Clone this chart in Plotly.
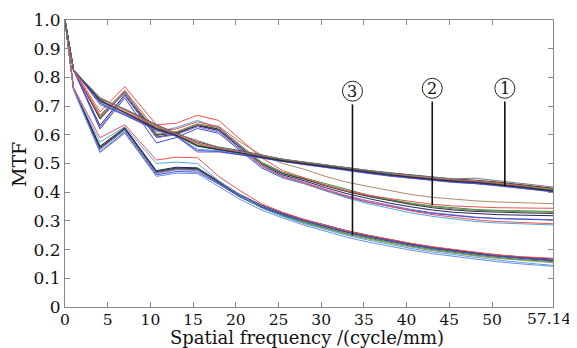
import plotly.graph_objects as go

# Spatial frequency sample points (cycle/mm)
freq = [0, 1, 4.1, 7, 10.7, 13, 15.5, 18, 20.5, 23, 25.5, 28, 30.5, 33, 35.5,
        38, 40.5, 43, 45.5, 48, 50.5, 53.5, 57.14]

# Group 1 (highest MTF at high frequency)
g1_grey = [1, 0.826, 0.728, 0.688, 0.632, 0.604, 0.58, 0.556, 0.542, 0.528, 0.515, 0.505, 0.495, 0.485, 0.475, 0.466, 0.459, 0.452, 0.446, 0.449, 0.44, 0.43, 0.418]
g1_dark = [1, 0.826, 0.725, 0.69, 0.635, 0.605, 0.575, 0.557, 0.545, 0.53, 0.515, 0.505, 0.495, 0.485, 0.476, 0.468, 0.46, 0.452, 0.446, 0.442, 0.436, 0.426, 0.414]
g1_brown = [1, 0.826, 0.73, 0.685, 0.63, 0.6, 0.57, 0.552, 0.54, 0.525, 0.512, 0.502, 0.492, 0.482, 0.472, 0.463, 0.455, 0.447, 0.441, 0.437, 0.432, 0.422, 0.41]
g1_green = [1, 0.826, 0.715, 0.68, 0.625, 0.6, 0.565, 0.55, 0.538, 0.524, 0.511, 0.501, 0.491, 0.481, 0.471, 0.462, 0.454, 0.446, 0.44, 0.436, 0.43, 0.42, 0.408]
g1_black = [1, 0.826, 0.72, 0.675, 0.62, 0.598, 0.56, 0.548, 0.537, 0.523, 0.51, 0.5, 0.49, 0.48, 0.47, 0.461, 0.453, 0.445, 0.439, 0.435, 0.428, 0.418, 0.405]
g1_blue = [1, 0.826, 0.71, 0.67, 0.618, 0.596, 0.545, 0.542, 0.532, 0.52, 0.507, 0.497, 0.487, 0.476, 0.466, 0.457, 0.449, 0.441, 0.435, 0.43, 0.424, 0.414, 0.402]
g1_red = [1, 0.826, 0.722, 0.68, 0.628, 0.602, 0.57, 0.553, 0.54, 0.526, 0.514, 0.504, 0.494, 0.484, 0.474, 0.464, 0.456, 0.448, 0.443, 0.439, 0.433, 0.423, 0.412]
g1_purple = [1, 0.826, 0.705, 0.668, 0.615, 0.595, 0.54, 0.54, 0.53, 0.518, 0.506, 0.496, 0.486, 0.475, 0.465, 0.456, 0.448, 0.44, 0.434, 0.43, 0.423, 0.413, 0.401]
g1_navy = [1, 0.826, 0.718, 0.678, 0.622, 0.6, 0.562, 0.55, 0.536, 0.522, 0.509, 0.499, 0.489, 0.479, 0.469, 0.46, 0.452, 0.444, 0.438, 0.434, 0.427, 0.417, 0.404]
g1_lblue = [1, 0.826, 0.712, 0.672, 0.62, 0.597, 0.55, 0.545, 0.534, 0.52, 0.508, 0.498, 0.488, 0.478, 0.468, 0.459, 0.451, 0.443, 0.437, 0.432, 0.426, 0.416, 0.403]

# Group 2 (middle)
g2_red = [1, 0.828, 0.68, 0.768, 0.635, 0.64, 0.668, 0.65, 0.585, 0.52, 0.475, 0.45, 0.425, 0.405, 0.39, 0.378, 0.367, 0.358, 0.352, 0.348, 0.346, 0.345, 0.344]
g2_brown = [1, 0.826, 0.67, 0.75, 0.605, 0.61, 0.635, 0.63, 0.575, 0.53, 0.5, 0.48, 0.455, 0.435, 0.42, 0.405, 0.392, 0.382, 0.375, 0.37, 0.366, 0.363, 0.36]
g2_lblue = [1, 0.826, 0.665, 0.745, 0.61, 0.625, 0.65, 0.625, 0.56, 0.495, 0.45, 0.43, 0.405, 0.38, 0.36, 0.343, 0.328, 0.316, 0.306, 0.298, 0.293, 0.289, 0.286]
g2_green = [1, 0.826, 0.66, 0.752, 0.6, 0.61, 0.638, 0.625, 0.565, 0.505, 0.47, 0.45, 0.428, 0.408, 0.39, 0.375, 0.362, 0.352, 0.345, 0.34, 0.337, 0.335, 0.333]
g2_black = [1, 0.826, 0.655, 0.748, 0.598, 0.607, 0.635, 0.62, 0.56, 0.5, 0.465, 0.445, 0.422, 0.402, 0.385, 0.37, 0.357, 0.346, 0.338, 0.333, 0.33, 0.328, 0.326]
g2_navy = [1, 0.826, 0.632, 0.74, 0.592, 0.603, 0.632, 0.615, 0.555, 0.495, 0.46, 0.44, 0.416, 0.395, 0.378, 0.362, 0.349, 0.338, 0.33, 0.325, 0.322, 0.32, 0.318]
g2_purple = [1, 0.826, 0.625, 0.735, 0.59, 0.6, 0.628, 0.61, 0.55, 0.49, 0.455, 0.435, 0.41, 0.388, 0.37, 0.354, 0.34, 0.329, 0.32, 0.313, 0.309, 0.306, 0.304]
g2_blue = [1, 0.826, 0.62, 0.728, 0.572, 0.59, 0.622, 0.605, 0.545, 0.485, 0.45, 0.43, 0.405, 0.383, 0.365, 0.35, 0.337, 0.326, 0.318, 0.312, 0.308, 0.305, 0.303]
g2_grey = [1, 0.826, 0.66, 0.745, 0.6, 0.608, 0.632, 0.618, 0.557, 0.5, 0.465, 0.447, 0.425, 0.405, 0.388, 0.373, 0.36, 0.35, 0.342, 0.337, 0.334, 0.332, 0.33]
g2_red2 = [1, 0.826, 0.665, 0.755, 0.615, 0.62, 0.645, 0.628, 0.563, 0.495, 0.455, 0.432, 0.407, 0.385, 0.366, 0.35, 0.335, 0.322, 0.312, 0.304, 0.298, 0.294, 0.29]

# Group 3 (lowest)
g3_red = [1, 0.765, 0.59, 0.635, 0.512, 0.522, 0.52, 0.455, 0.405, 0.36, 0.33, 0.305, 0.285, 0.265, 0.25, 0.235, 0.222, 0.21, 0.2, 0.19, 0.182, 0.175, 0.17]
g3_lblue = [1, 0.762, 0.575, 0.628, 0.5, 0.505, 0.5, 0.44, 0.39, 0.345, 0.315, 0.29, 0.27, 0.25, 0.233, 0.218, 0.204, 0.192, 0.182, 0.172, 0.164, 0.155, 0.145]
g3_navy = [1, 0.762, 0.56, 0.625, 0.475, 0.487, 0.485, 0.438, 0.392, 0.355, 0.327, 0.305, 0.285, 0.266, 0.25, 0.235, 0.221, 0.209, 0.199, 0.19, 0.182, 0.174, 0.167]
g3_black = [1, 0.76, 0.555, 0.622, 0.472, 0.484, 0.482, 0.434, 0.388, 0.35, 0.322, 0.3, 0.28, 0.261, 0.245, 0.23, 0.217, 0.205, 0.195, 0.186, 0.178, 0.17, 0.162]
g3_green = [1, 0.76, 0.552, 0.62, 0.468, 0.48, 0.478, 0.43, 0.385, 0.347, 0.318, 0.295, 0.275, 0.256, 0.24, 0.225, 0.212, 0.2, 0.19, 0.181, 0.173, 0.165, 0.158]
g3_purple = [1, 0.758, 0.548, 0.616, 0.465, 0.478, 0.476, 0.432, 0.386, 0.35, 0.323, 0.301, 0.282, 0.264, 0.248, 0.233, 0.22, 0.208, 0.198, 0.188, 0.179, 0.171, 0.163]
g3_blue = [1, 0.758, 0.54, 0.61, 0.46, 0.472, 0.47, 0.428, 0.383, 0.348, 0.322, 0.3, 0.281, 0.262, 0.246, 0.231, 0.217, 0.205, 0.195, 0.186, 0.178, 0.17, 0.163]
g3_brown = [1, 0.76, 0.557, 0.62, 0.47, 0.482, 0.48, 0.433, 0.386, 0.347, 0.317, 0.293, 0.272, 0.253, 0.237, 0.222, 0.209, 0.197, 0.187, 0.178, 0.17, 0.162, 0.154]
g3_grey = [1, 0.76, 0.553, 0.618, 0.47, 0.48, 0.478, 0.431, 0.384, 0.346, 0.318, 0.296, 0.277, 0.259, 0.243, 0.228, 0.215, 0.203, 0.193, 0.184, 0.176, 0.168, 0.16]
g3_cblue = [1, 0.756, 0.538, 0.605, 0.455, 0.466, 0.465, 0.42, 0.375, 0.338, 0.31, 0.285, 0.263, 0.243, 0.226, 0.211, 0.198, 0.186, 0.176, 0.167, 0.158, 0.15, 0.142]

x_tickvals = [0, 5, 10, 15, 20, 25, 30, 35, 40, 45, 50, 57.14]
x_ticktext = ["0", "5", "10", "15", "20", "25", "30", "35", "40", "45", "50", ""]
x_last_label = "57.14"   # drawn right-aligned at the axis end, as in the reference
y_tickvals = [0, 0.1, 0.2, 0.3, 0.4, 0.5, 0.6, 0.7, 0.8, 0.9, 1.0]
y_ticktext = ["0", "0.1", "0.2", "0.3", "0.4", "0.5", "0.6", "0.7", "0.8", "0.9", "1.0"]

x_title = "Spatial frequency /(cycle/mm)"
y_title = "MTF"

labels = ["1", "2", "3"]
label_x = [51.5, 43.0, 33.66]
label_y = [0.762, 0.762, 0.752]
pointer_bottom = [0.42, 0.355, 0.25]

C = {
    "red": "#f25050", "lblue": "#4fa8e0", "navy": "#22225e", "black": "#333333",
    "green": "#3a963a", "purple": "#8866cc", "blue": "#3d4fd8", "brown": "#b08866",
    "grey": "#7a7a7a", "cblue": "#6f8fe6", "dark": "#444444",
}

series = [
    (g3_grey, "grey"), (g3_brown, "brown"), (g3_green, "green"), (g3_purple, "purple"),
    (g3_black, "black"), (g3_navy, "navy"), (g3_blue, "blue"), (g3_cblue, "cblue"),
    (g3_lblue, "lblue"), (g3_red, "red"),
    (g2_grey, "grey"), (g2_green, "green"), (g2_black, "black"), (g2_navy, "navy"),
    (g2_purple, "purple"), (g2_blue, "blue"), (g2_lblue, "lblue"), (g2_brown, "brown"),
    (g2_red2, "red"), (g2_red, "red"),
    (g1_brown, "brown"), (g1_green, "green"), (g1_purple, "purple"), (g1_lblue, "lblue"),
    (g1_blue, "blue"), (g1_navy, "navy"), (g1_red, "red"), (g1_black, "black"),
    (g1_dark, "dark"), (g1_grey, "grey"),
]

fig = go.Figure()
for vals, col in series:
    fig.add_trace(go.Scatter(x=freq, y=vals, mode="lines",
                             line=dict(color=C[col], width=1),
                             showlegend=False, hoverinfo="skip"))

font_family = "DejaVu Serif"
shapes = []
annotations = []
for lab, lx, ly, lb in zip(labels, label_x, label_y, pointer_bottom):
    shapes.append(dict(type="circle", xref="x", yref="y", xsizemode="pixel",
                       ysizemode="pixel", xanchor=lx, yanchor=ly,
                       x0=-10, x1=10, y0=-10, y1=10,
                       line=dict(color="#222222", width=1)))
    shapes.append(dict(type="line", xref="x", yref="y", x0=lx, x1=lx,
                       y0=ly - 0.046, y1=lb,
                       line=dict(color="#111111", width=1.6)))
    annotations.append(dict(x=lx, y=ly, xref="x", yref="y", text=lab,
                            showarrow=False,
                            font=dict(family=font_family, size=16, color="#111111")))

# last x tick label, right-aligned so it stays inside the picture
annotations.append(dict(x=1, y=0, xref="paper", yref="paper", text=x_last_label,
                        showarrow=False, xanchor="right", yanchor="middle",
                        xshift=21, yshift=-12,
                        font=dict(family=font_family, size=15.5, color="#111111")))

# axis titles as annotations for precise placement
annotations.append(dict(x=0.495, y=0, xref="paper", yref="paper", text=x_title,
                        showarrow=False, xanchor="center", yanchor="middle",
                        yshift=-30, font=dict(family=font_family, size=18, color="#111111")))
annotations.append(dict(x=-0.094, y=0.495, xref="paper", yref="paper", text=y_title,
                        showarrow=False, xanchor="center", yanchor="middle",
                        textangle=-90, font=dict(family=font_family, size=19, color="#111111")))

# the page body adds an 8px offset; size the figure so the plot lands where the reference's does
fig.update_layout(
    width=569, height=340,
    margin=dict(l=57, r=24, t=12, b=41),
    paper_bgcolor="white", plot_bgcolor="white",
    font=dict(family=font_family, size=17, color="#111111"),
    shapes=shapes, annotations=annotations,
    xaxis=dict(range=[0, 57.14], tickvals=x_tickvals, ticktext=x_ticktext,
               ticks="inside", ticklen=5, tickcolor="#888888",
               tickfont=dict(size=15.5), ticklabeloverflow="allow",
               ticklabelstandoff=-2,
               showline=True, linecolor="#888888", linewidth=1.2, mirror="ticks",
               showgrid=False, zeroline=False, automargin=False),
    yaxis=dict(range=[0, 1.0], tickvals=y_tickvals, ticktext=y_ticktext,
               ticks="inside", ticklen=5, tickcolor="#888888",
               tickfont=dict(size=17), ticklabeloverflow="allow",
               showline=True, linecolor="#888888", linewidth=1.2, mirror="ticks",
               showgrid=False, zeroline=False, automargin=False),
)

fig.write_html("out.html")
